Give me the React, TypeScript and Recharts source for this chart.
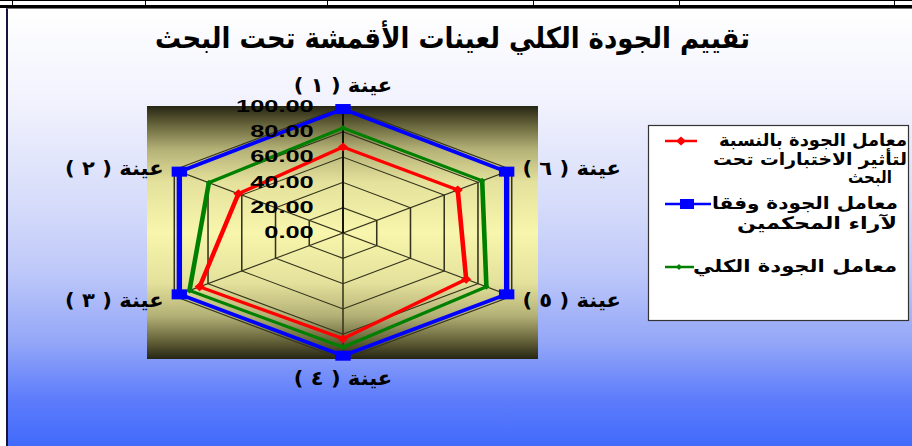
import { RadarChart, Radar, PolarGrid, PolarAngleAxis, PolarRadiusAxis } from 'recharts'

const chartTitle = 'تقييم الجودة الكلي لعينات الأقمشة تحت البحث'
const samples = ['عينة ( ١ )', 'عينة ( ٢ )', 'عينة ( ٣ )', 'عينة ( ٤ )', 'عينة ( ٥ )', 'عينة ( ٦ )']
const testsFactor = [68, 62, 85, 83.5, 73, 68]
const judgesFactor = [98, 97, 97, 97, 97, 97]
const overallFactor = [83, 79.5, 91, 90.3, 85, 82.5]
const radiusTicks = [0, 20, 40, 60, 80, 100]
const testsLegend = ['معامل الجودة بالنسبة', 'لتأثير الاختبارات تحت', 'البحث']
const judgesLegend = ['معامل الجودة وفقا', 'لآراء المحكمين']
const overallLegend = ['معامل الجودة الكلي']

// samples run anticlockwise in the original; recharts goes clockwise, so walk them backwards
const order = [0, 5, 4, 3, 2, 1]
const data = order.map((i) => ({
  sample: samples[i],
  tests: testsFactor[i],
  judges: judgesFactor[i],
  overall: overallFactor[i],
}))

// the original was stretched sideways, so the radar is drawn round and then widened
const SX = 1.54
const DW = 480
const DH = 340
const CX = 240
const CY = 170
const R = 126.5
const MID_X = 343
const MID_Y = 232.5

const arabicFont = "'DejaVu Sans', 'Noto Sans', sans-serif"
const numFont = "'Liberation Sans', Arial, sans-serif"

function marker(kind: string, cx: number, cy: number, color: string, hw: number, hh: number, key?: any) {
  if (kind === 'square') {
    return <rect key={key} x={cx - hw} y={cy - hh} width={hw * 2} height={hh * 2} fill={color} />
  }
  return (
    <polygon
      key={key}
      points={`${cx},${cy - hh} ${cx + hw},${cy} ${cx},${cy + hh} ${cx - hw},${cy}`}
      fill={color}
    />
  )
}

const series = [
  { key: 'tests', color: '#ff0000', width: 3, kind: 'diamond', dot: [3.3, 4.5], leg: [5, 4.5], legend: testsLegend },
  { key: 'judges', color: '#0000ff', width: 3.5, kind: 'square', dot: [5, 5], leg: [7, 5], legend: judgesLegend },
  { key: 'overall', color: '#008000', width: 3, kind: 'diamond', dot: [2, 3], leg: [3, 3], legend: overallLegend },
]

function SampleTick(props: any) {
  const { x, y, payload } = props
  const dx = x - CX
  const dy = y - CY
  const len = Math.hypot(dx, dy) || 1
  const ux = dx / len
  const uy = dy / len
  const tx = CX + ux * (R + 8)
  let ty = CY + uy * (R + 8)
  let anchor = 'middle'
  if (Math.abs(ux) < 0.1) {
    ty += uy > 0 ? 11 : -13
  } else {
    anchor = ux > 0 ? 'start' : 'end'
    if (uy < 0) ty += 2
  }
  return (
    <text
      x={tx}
      y={ty}
      textAnchor={anchor}
      dominantBaseline="central"
      fontSize={20}
      fontWeight="bold"
      fontFamily={arabicFont}
      textLength={64}
      lengthAdjust="spacingAndGlyphs"
      fill="#000"
    >
      {payload.value + '\u200F'}
    </text>
  )
}

function ValueTick(props: any) {
  const { x, y, payload } = props
  return (
    <text
      x={x - 19}
      y={y}
      textAnchor="end"
      dominantBaseline="central"
      fontSize={16.5}
      fontWeight="bold"
      fontFamily={numFont}
      fill="#000"
    >
      {Number(payload.value).toFixed(2)}
    </text>
  )
}

const dividers = [12, 145, 327, 533, 679, 894]

export default function App() {
  return (
    <div style={{ position: 'relative', width: 912, height: 446, overflow: 'hidden', background: '#fff' }}>
      <style>{'body{margin:0}'}</style>
      <div style={{ position: 'absolute', left: 0, top: 0, width: 912, height: 1, background: '#000' }} />
      {dividers.map((x) => (
        <div key={x} style={{ position: 'absolute', left: x, top: 0, width: 1, height: 6, background: '#000' }} />
      ))}
      <div style={{ position: 'absolute', left: 0, top: 5, width: 912, height: 3, background: '#000' }} />
      <div
        style={{
          position: 'absolute',
          left: 6,
          top: 8,
          width: 920,
          height: 450,
          boxSizing: 'border-box',
          borderLeft: '2px solid #15153a',
          borderTop: '1px solid #777',
          background:
            'linear-gradient(180deg, #ffffff 0%, #f1f2fd 21%, #d5dbfa 44%, #bfc9f9 58%, #94a7f8 74%, #5d7cfb 87%, #3a66fc 100%)',
        }}
      />
      <div
        style={{
          position: 'absolute',
          left: 147,
          top: 106,
          width: 391,
          height: 253,
          background:
            'linear-gradient(180deg, #262514 0%, #636138 7%, #b3b076 17%, #e4e19c 30%, #f8f5ac 50%, #e4e19c 70%, #b3b076 83%, #636138 93%, #262514 100%)',
        }}
      />
      <div
        style={{
          position: 'absolute',
          left: MID_X - CX,
          top: MID_Y - CY,
          width: DW,
          height: DH,
          transform: `scaleX(${SX})`,
          transformOrigin: `${CX}px ${CY}px`,
        }}
      >
        <RadarChart
          width={DW}
          height={DH}
          data={data}
          cx={CX}
          cy={CY}
          outerRadius={R}
          margin={{ top: 0, right: 0, bottom: 0, left: 0 }}
        >
          <PolarGrid stroke="#34341c" strokeWidth={1} />
          <PolarAngleAxis dataKey="sample" tick={SampleTick} tickLine={false} axisLine={false} />
          {series.map((s) => (
            <Radar
              key={s.key}
              dataKey={s.key}
              stroke={s.color}
              strokeWidth={s.width}
              fill="none"
              isAnimationActive={false}
              dot={(p: any) => marker(s.kind, p.cx, p.cy, s.color, s.dot[0], s.dot[1], `${s.key}-${p.index}`)}
            />
          ))}
          <PolarRadiusAxis
            angle={90}
            domain={[0, 100]}
            ticks={radiusTicks as any}
            tickCount={6}
            tick={ValueTick}
            axisLine={{ stroke: '#000', strokeWidth: 1 }}
          />
        </RadarChart>
      </div>
      <svg width={912} height={446} style={{ position: 'absolute', left: 0, top: 0, pointerEvents: 'none' }}>
        <text
          x={452.5}
          y={48}
          textAnchor="middle"
          fontSize={29}
          fontWeight="bold"
          fontFamily={arabicFont}
          textLength={595}
          lengthAdjust="spacingAndGlyphs"
          fill="#000"
        >
          {chartTitle}
        </text>
        <rect x={648.5} y={125.5} width={260} height={195} fill="#fff" stroke="#333" strokeWidth={1.2} />
        <line x1={665} x2={697} y1={141} y2={141} stroke={series[0].color} strokeWidth={2.5} />
        {marker(series[0].kind, 681, 141, series[0].color, series[0].leg[0], series[0].leg[1])}
        {[
          { t: series[0].legend[0], x: 907, y: 146, w: 188 },
          { t: series[0].legend[1], x: 907, y: 165, w: 194 },
          { t: series[0].legend[2], x: 892, y: 183, w: 44 },
          { t: series[1].legend[0], x: 898, y: 209, w: 186 },
          { t: series[1].legend[1], x: 897, y: 229, w: 160 },
          { t: series[2].legend[0], x: 897, y: 272, w: 204 },
        ].map((l, i) => (
          <text
            key={i}
            x={l.x}
            y={l.y}
            textAnchor="end"
            fontSize={17}
            fontWeight="bold"
            fontFamily={arabicFont}
            textLength={l.w}
            lengthAdjust="spacingAndGlyphs"
            fill="#000"
          >
            {l.t}
          </text>
        ))}
        <line x1={665} x2={711} y1={204} y2={204} stroke={series[1].color} strokeWidth={2.5} />
        {marker(series[1].kind, 687, 204, series[1].color, series[1].leg[0], series[1].leg[1])}
        <line x1={665} x2={694} y1={267} y2={267} stroke={series[2].color} strokeWidth={2.5} />
        {marker(series[2].kind, 679, 267, series[2].color, series[2].leg[0], series[2].leg[1])}
      </svg>
    </div>
  )
}
